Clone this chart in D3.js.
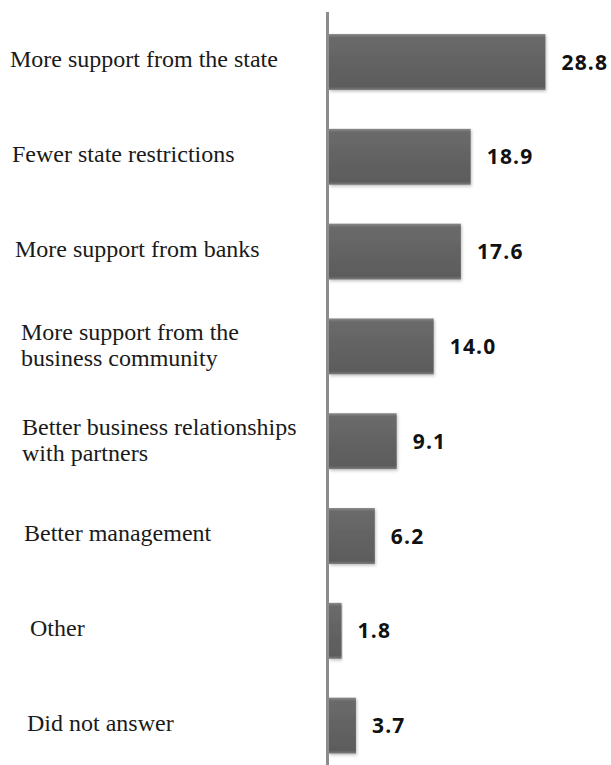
<!DOCTYPE html>
<html>
<head>
<meta charset="utf-8">
<script src="https://cdn.jsdelivr.net/npm/d3@7/dist/d3.min.js"></script>
<style>
  html, body { margin: 0; padding: 0; background: #fff; }
  svg { display: block; }
</style>
</head>
<body>
<script>
// Survey answers (percent of respondents)
const categories = [
  "More support from the state",
  "Fewer state restrictions",
  "More support from banks",
  "More support from the\nbusiness community",
  "Better business relationships\nwith partners",
  "Better management",
  "Other",
  "Did not answer"
];
const values = [28.8, 18.9, 17.6, 14.0, 9.1, 6.2, 1.8, 3.7];
const valueLabels = ["28.8", "18.9", "17.6", "14.0", "9.1", "6.2", "1.8", "3.7"];

// Layout: left indent of each category label
const labelIndent = [10, 12, 15, 21, 22, 24, 30, 27];

const W = 611, H = 765;
const axisX = 328;

const svg = d3.select("body").append("svg")
  .attr("width", W).attr("height", H);

const defs = svg.append("defs");
const grad = defs.append("linearGradient")
  .attr("id", "barFill").attr("x1", 0).attr("y1", 0).attr("x2", 0).attr("y2", 1);
[[0, "#8a8a8a"], [0.06, "#6a6a6a"], [0.5, "#636363"], [0.94, "#5c5c5c"], [1, "#7c7c7c"]]
  .forEach(([o, c]) => grad.append("stop").attr("offset", o).attr("stop-color", c));

const shadow = defs.append("filter").attr("id", "barShadow")
  .attr("x", "-5%").attr("y", "-10%").attr("width", "115%").attr("height", "130%");
shadow.append("feDropShadow").attr("dx", 1).attr("dy", 1.5)
  .attr("stdDeviation", 1.5).attr("flood-color", "#000").attr("flood-opacity", 0.25);

const x = d3.scaleLinear().domain([0, 30]).range([axisX, axisX + 30 * 7.55]);
const y = d3.scaleBand().domain(categories).range([14.6, 773])
  .paddingInner(0.41).paddingOuter(0.205);

const data = categories.map((c, i) => ({ c, v: values[i], label: valueLabels[i], i }));

// Bars
svg.append("g").selectAll("rect").data(data).enter().append("rect")
  .attr("x", x(0) + 1)
  .attr("y", d => y(d.c))
  .attr("width", d => x(d.v) - x(0) - 1)
  .attr("height", y.bandwidth())
  .attr("fill", "url(#barFill)")
  .attr("filter", "url(#barShadow)");

// Category axis line
svg.append("line")
  .attr("x1", axisX - 0.5).attr("x2", axisX - 0.5)
  .attr("y1", 12).attr("y2", H)
  .attr("stroke", "#8c8c8c").attr("stroke-width", 3);

// Category labels
const cat = svg.append("g")
  .attr("font-family", "'Liberation Serif', 'Times New Roman', serif")
  .attr("font-size", 24).attr("fill", "#1a1a1a");
data.forEach(d => {
  const lines = d.c.split("\n");
  const cy = y(d.c) + y.bandwidth() / 2;
  const t = cat.append("text").attr("x", labelIndent[d.i]);
  if (lines.length === 1) {
    t.attr("y", cy + 5).text(lines[0]);
  } else {
    lines.forEach((ln, k) => {
      t.append("tspan").attr("x", labelIndent[d.i]).attr("y", cy - 6 + k * 26).text(ln);
    });
  }
});

// Value labels
svg.append("g").selectAll("text").data(data).enter().append("text")
  .attr("x", d => x(d.v) + 16)
  .attr("y", d => y(d.c) + y.bandwidth() / 2 + 7.5)
  .attr("font-family", "'Open Sans', sans-serif")
  .attr("font-weight", 700)
  .attr("font-size", 21)
  .attr("letter-spacing", 1.2)
  .attr("fill", "#111")
  .text(d => d.label);
</script>
</body>
</html>
